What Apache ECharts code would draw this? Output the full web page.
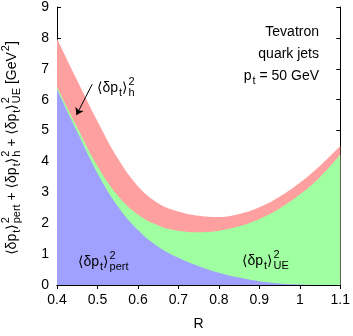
<!DOCTYPE html>
<html>
<head>
<meta charset="utf-8">
<script src="https://cdn.jsdelivr.net/npm/echarts@6/dist/echarts.min.js"></script>
<style>
  html, body { margin: 0; padding: 0; background: #fff; }
  #chart { width: 353px; height: 336px; }
</style>
</head>
<body>
<div id="chart"></div>
<script>
// jet radius R
const radii = [0.4, 0.45, 0.5, 0.55, 0.6, 0.65, 0.7, 0.75, 0.8, 0.85, 0.9, 0.95, 1.0, 1.05, 1.1];
// <dpt>^2 contributions, GeV^2 (stacked: pert, UE, hadronisation)
const pertValues = [6.33, 4.95, 3.62, 2.55, 1.78, 1.24, 0.88, 0.61, 0.4, 0.24, 0.12, 0.05, 0.015, 0, 0];
const ueValues = [0.08, 0.15, 0.23, 0.35, 0.5, 0.69, 0.88, 1.1, 1.36, 1.66, 2.02, 2.43, 2.915, 3.5, 4.22];
const hadValues = [1.56, 1.52, 1.45, 1.2, 0.92, 0.72, 0.62, 0.53, 0.44, 0.4, 0.38, 0.38, 0.38, 0.36, 0.28];

const FAMILY = '"Liberation Sans", "DejaVu Sans", sans-serif';

// cumulative tops (stack by hand, value x-axis does not stack on y)
const pertTop = pertValues.slice();
const ueTop = pertValues.map((v, i) => v + ueValues[i]);
const hadTop = ueTop.map((v, i) => v + hadValues[i]);

// small helper to lay out text with sub/superscripts
const measureCtx = document.createElement('canvas').getContext('2d');
function textWidth(str, size) {
  measureCtx.font = size + 'px ' + FAMILY;
  return measureCtx.measureText(str).width;
}
function textEl(text, x, y, size) {
  return {
    type: 'text', x: x, y: y, z: 100,
    style: { text: text, font: size + 'px ' + FAMILY, fill: '#000', textAlign: 'left', textVerticalAlign: 'middle' }
  };
}
// parts: [main, sup, sub]
function mathRun(parts, size) {
  const small = Math.round(size * 0.75);
  const children = [];
  let x = 0;
  parts.forEach(([main, sup, sub]) => {
    if (main) {
      children.push(textEl(main, x, 0, size));
      x += textWidth(main, size);
    }
    let w = 0;
    if (sup) {
      children.push(textEl(sup, x + 1, -size * 0.45, small));
      w = textWidth(sup, small) + 1;
    }
    if (sub) {
      children.push(textEl(sub, x + 1, size * 0.38, small));
      w = Math.max(w, textWidth(sub, small) + 1);
    }
    x += w;
  });
  return { children: children, width: x };
}
function mathGroup(parts, size, left, cy) {
  const run = mathRun(parts, size);
  return { type: 'group', x: left, y: cy, z: 100, children: run.children };
}

const dpt = ['⟨δp', null, 't'];
const yTitle = mathRun([
  dpt, ['⟩', '2', 'pert'],
  [' + ⟨δp', null, 't'], ['⟩', '2', 'h'],
  [' + ⟨δp', null, 't'], ['⟩', '2', 'UE'],
  [' [GeV', '2', null], [']', null, null]
], 14);

const ptLine = mathRun([['p', null, 't'], [' = 50 GeV', null, null]], 14);

const chart = echarts.init(document.getElementById('chart'));

const axisLine = { show: true, lineStyle: { color: '#000', width: 1 } };
const axisTick = { show: true, inside: true, length: 4, lineStyle: { color: '#000', width: 1 } };
const labelStyle = { color: '#000', fontSize: 14, fontFamily: FAMILY };

function areaSeries(name, values, color, z, extra) {
  return Object.assign({
    name: name,
    type: 'line',
    z: z,
    smooth: 0.4,
    showSymbol: false,
    symbol: 'none',
    lineStyle: { width: 0 },
    areaStyle: { color: color, opacity: 1 },
    data: radii.map((r, i) => [r, values[i]])
  }, extra || {});
}

const option = {
  animation: false,
  grid: { left: 57, right: 11, top: 7, bottom: 44 },
  xAxis: [
    {
      type: 'value', position: 'bottom', min: 0.4, max: 1.1, interval: 0.1,
      axisLine: axisLine, axisTick: axisTick, splitLine: { show: false },
      axisLabel: Object.assign({ margin: 8 }, labelStyle),
      name: 'R', nameLocation: 'middle', nameGap: 32,
      nameTextStyle: { color: '#000', fontSize: 14, fontFamily: FAMILY }
    },
    {
      type: 'value', position: 'top', min: 0.4, max: 1.1, interval: 0.1,
      axisLine: axisLine, axisTick: axisTick, splitLine: { show: false },
      axisLabel: { show: false }
    }
  ],
  yAxis: [
    {
      type: 'value', position: 'left', min: 0, max: 9, interval: 1,
      axisLine: axisLine, axisTick: axisTick, splitLine: { show: false },
      axisLabel: Object.assign({ margin: 8 }, labelStyle)
    },
    {
      type: 'value', position: 'right', min: 0, max: 9, interval: 1,
      axisLine: axisLine, axisTick: axisTick, splitLine: { show: false },
      axisLabel: { show: false }
    }
  ],
  series: [
    // drawn top to bottom so each lower band covers the one above
    areaSeries('h', hadTop, '#ffa0a0', 2, {
      markLine: {
        silent: true,
        symbol: ['none', 'arrow'],
        symbolSize: 7,
        label: { show: false },
        z: 10,
        lineStyle: { color: '#000', width: 1, type: 'solid' },
        data: [[{ coord: [0.487, 6.5] }, { coord: [0.448, 5.5] }]]
      }
    }),
    areaSeries('UE', ueTop, '#a0ffa0', 3),
    areaSeries('pert', pertTop, '#a0a0ff', 4)
  ],
  graphic: [
    {
      type: 'group', x: 12, y: 148 + yTitle.width / 2, rotation: Math.PI / 2, z: 100,
      children: yTitle.children
    },
    { type: 'text', x: 319, y: 32, z: 100, style: { text: 'Tevatron', font: '14px ' + FAMILY, fill: '#000', textAlign: 'right', textVerticalAlign: 'middle' } },
    { type: 'text', x: 319, y: 54, z: 100, style: { text: 'quark jets', font: '14px ' + FAMILY, fill: '#000', textAlign: 'right', textVerticalAlign: 'middle' } },
    { type: 'group', x: 319 - ptLine.width, y: 76, z: 100, children: ptLine.children },
    mathGroup([dpt, ['⟩', '2', 'h']], 14, 97, 88),
    mathGroup([dpt, ['⟩', '2', 'pert']], 14, 78, 262),
    mathGroup([dpt, ['⟩', '2', 'UE']], 14, 242, 261)
  ]
};

chart.setOption(option);
</script>
</body>
</html>
